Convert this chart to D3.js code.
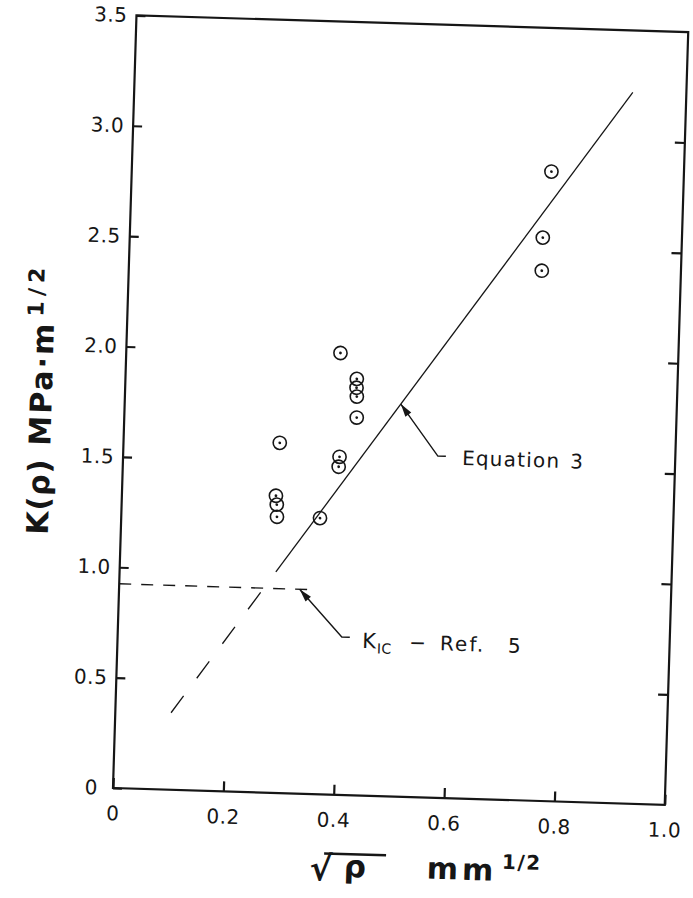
<!DOCTYPE html>
<html>
<head>
<meta charset="utf-8">
<script src="https://cdn.jsdelivr.net/npm/d3@7"></script>
<style>
  body { margin: 0; background: #fff; }
  text { font-family: "DejaVu Sans", sans-serif; fill: #161616; }
  .tick text { font-size: 20px; letter-spacing: 0.5px; }
</style>
</head>
<body>
<svg id="chart" width="693" height="898"></svg>
<script>
// measured points: sqrt(rho) in mm^1/2, K(rho) in MPa.m^1/2
const rootRho = [0.760, 0.748, 0.748, 0.388, 0.419, 0.419, 0.420, 0.421, 0.283, 0.392, 0.391, 0.279, 0.281, 0.282, 0.360];
const kRho    = [2.85, 2.55, 2.40, 2.00, 1.885, 1.845, 1.805, 1.71, 1.585, 1.53, 1.485, 1.345, 1.305, 1.25, 1.25];

// Equation 3 line, solid and dashed (extrapolated) parts
const eqSlope = 3.58, eqIntercept = -0.013;
const eqSolid = [0.283, 0.903];
const eqDashed = [0.101, 0.265];

// K_IC level from Ref. 5
const kIc = 0.925;
const kIcSpan = [0, 0.345];

const xTicks = [0, 0.2, 0.4, 0.6, 0.8, 1.0];
const yTicks = [0, 0.5, 1.0, 1.5, 2.0, 2.5, 3.0, 3.5];

const W = 552, H = 773;
const ink = "#161616";
const fmt = d => d === 0 ? "0" : d3.format(".1f")(d);

const svg = d3.select("#chart");
svg.append("rect").attr("width", 693).attr("height", 898).attr("fill", "#fff");

// the scanned figure sits slightly rotated on the page
const g = svg.append("g")
  .attr("transform", `translate(113,788) rotate(1.74) translate(0,${-H})`);

const x = d3.scaleLinear().domain([0, 1]).range([0, W]);
const y = d3.scaleLinear().domain([0, 3.5]).range([H, 0]);
const eq = v => eqSlope * v + eqIntercept;

// frame
g.append("rect")
  .attr("width", W).attr("height", H)
  .attr("fill", "none").attr("stroke", ink).attr("stroke-width", 2.2);

// axes, ticks pointing inward
const xAxis = g.append("g").attr("transform", `translate(0,${H})`)
  .call(d3.axisBottom(x).tickValues(xTicks).tickSizeInner(-10).tickSizeOuter(0)
    .tickPadding(18).tickFormat(fmt));
const yAxis = g.append("g")
  .call(d3.axisLeft(y).tickValues(yTicks).tickSizeInner(-9).tickSizeOuter(0)
    .tickPadding(9).tickFormat(fmt));
const yRight = g.append("g").attr("transform", `translate(${W},0)`)
  .call(d3.axisRight(y).tickValues(yTicks.slice(1, -1)).tickSizeInner(-10).tickSizeOuter(0)
    .tickFormat(""));

[xAxis, yAxis, yRight].forEach(a => {
  a.select(".domain").remove();
  a.selectAll(".tick line").attr("stroke", ink).attr("stroke-width", 2.2);
  a.attr("font-family", null).attr("font-size", null);
});
// the zero on the y axis sits a little further out
yAxis.selectAll(".tick text").filter(d => d === 0).attr("x", -15);

// K_IC dashed level
g.append("line")
  .attr("x1", x(kIcSpan[0])).attr("x2", x(kIcSpan[1]))
  .attr("y1", y(kIc)).attr("y2", y(kIc))
  .attr("stroke", ink).attr("stroke-width", 1.4).attr("stroke-dasharray", "12,10");

// Equation 3
g.append("line")
  .attr("x1", x(eqSolid[0])).attr("y1", y(eq(eqSolid[0])))
  .attr("x2", x(eqSolid[1])).attr("y2", y(eq(eqSolid[1])))
  .attr("stroke", ink).attr("stroke-width", 1.3);
g.append("line")
  .attr("x1", x(eqDashed[0])).attr("y1", y(eq(eqDashed[0])))
  .attr("x2", x(eqDashed[1])).attr("y2", y(eq(eqDashed[1])))
  .attr("stroke", ink).attr("stroke-width", 1.3).attr("stroke-dasharray", "21,22");

// data points: open circle with a center dot
const pts = rootRho.map((v, i) => [v, kRho[i]]);
g.selectAll(".pt").data(pts).enter().append("circle")
  .attr("cx", d => x(d[0])).attr("cy", d => y(d[1])).attr("r", 6.6)
  .attr("fill", "none").attr("stroke", ink).attr("stroke-width", 1.6);
g.selectAll(".dot").data(pts).enter().append("circle")
  .attr("cx", d => x(d[0])).attr("cy", d => y(d[1])).attr("r", 1.4)
  .attr("fill", ink);

// leader with arrowhead: tip, elbow, short horizontal tail
function leader(tip, elbow) {
  const tx = x(tip[0]), ty = y(tip[1]), ex = x(elbow[0]), ey = y(elbow[1]);
  g.append("path")
    .attr("d", `M${tx},${ty}L${ex},${ey}l8,0`)
    .attr("fill", "none").attr("stroke", ink).attr("stroke-width", 1.4);
  const a = Math.atan2(ey - ty, ex - tx), L = 13, w = 3.6;
  const bx = tx + L * Math.cos(a), by = ty + L * Math.sin(a);
  g.append("path")
    .attr("d", `M${tx},${ty}L${bx - w * Math.sin(a)},${by + w * Math.cos(a)}L${bx + w * Math.sin(a)},${by - w * Math.cos(a)}Z`)
    .attr("fill", ink);
}

leader([0.5, eq(0.5)], [0.570, 1.547]);
const eqLab = g.append("text").attr("x", x(0.614)).attr("y", y(1.51))
  .attr("font-size", 20).attr("letter-spacing", 1.2);
eqLab.append("tspan").text("Equation");
eqLab.append("tspan").attr("dx", 10).text("3");

leader([0.327, kIc], [0.406, 0.715]);
const kx = x(0.443), ky = y(0.668);
g.append("text").attr("x", kx).attr("y", ky).attr("font-size", 21).text("K");
g.append("text").attr("x", kx + 15).attr("y", ky + 5).attr("font-size", 14).attr("letter-spacing", 0.5).text("IC");
g.append("text").attr("x", kx + 47).attr("y", ky).attr("font-size", 20).text("−");
g.append("text").attr("x", kx + 78).attr("y", ky).attr("font-size", 20).attr("letter-spacing", 2).text("Ref.");
g.append("text").attr("x", kx + 146).attr("y", ky).attr("font-size", 20).text("5");

// y axis title
const yt = g.append("g").attr("transform", `translate(-73,522) rotate(-90)`);
yt.append("text").attr("x", 0).attr("y", 0)
  .attr("font-size", 30).attr("font-weight", "bold").attr("letter-spacing", 1).text("K(ρ)");
yt.append("text").attr("x", 89).attr("y", 0)
  .attr("font-size", 30).attr("font-weight", "bold").attr("letter-spacing", 2).text("MPa·m");
yt.append("text").attr("x", 218).attr("y", -11)
  .attr("font-size", 22).attr("font-weight", "bold").attr("letter-spacing", 5).text("1/2");

// x axis title
g.append("text").attr("x", 199).attr("y", H + 86)
  .attr("font-size", 34).attr("font-weight", "bold").text("√");
g.append("line").attr("x1", 213).attr("x2", 275).attr("y1", H + 59).attr("y2", H + 59)
  .attr("stroke", ink).attr("stroke-width", 2.6);
g.append("text").attr("x", 233).attr("y", H + 82)
  .attr("font-size", 31).attr("font-weight", "bold").text("ρ");
g.append("text").attr("x", 316).attr("y", H + 81)
  .attr("font-size", 30).attr("font-weight", "bold").attr("letter-spacing", 4).text("mm");
g.append("text").attr("x", 391).attr("y", H + 69)
  .attr("font-size", 20).attr("font-weight", "bold").attr("letter-spacing", 1.5).text("1/2");
</script>
</body>
</html>
